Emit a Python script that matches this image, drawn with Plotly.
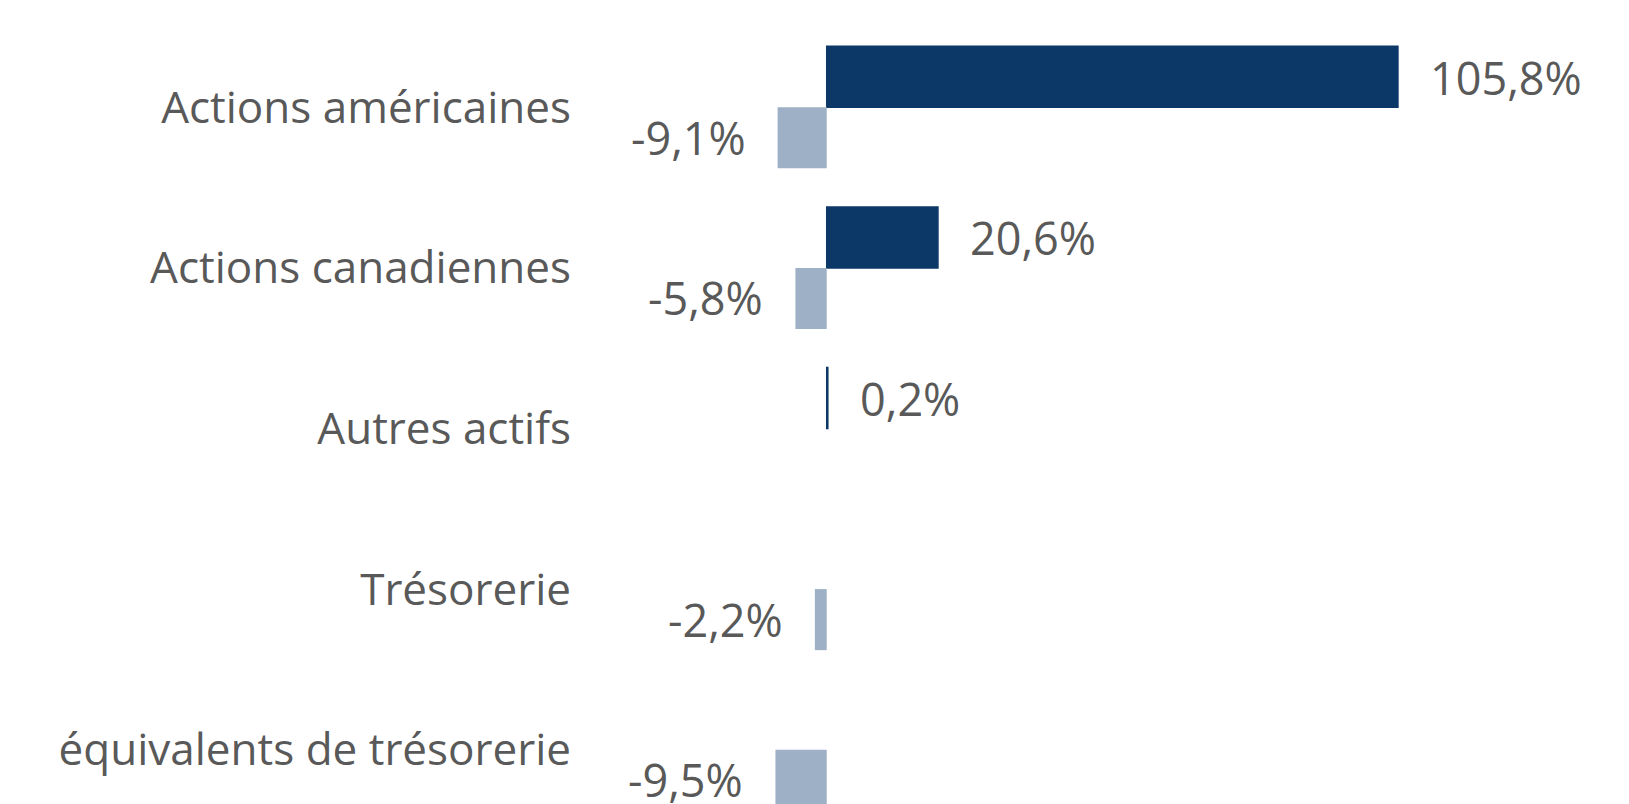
import plotly.graph_objects as go

categories = ["Actions américaines", "Actions canadiennes", "Autres actifs",
              "Trésorerie", "équivalents de trésorerie"]
long_values = [105.8, 20.6, 0.2, None, None]
short_values = [-9.1, -5.8, None, -2.2, -9.5]

DARK = "#0C3868"
LIGHT = "#9EB0C6"
TEXT = "#595959"
FONT = "Open Sans"


def fmt(v):
    return f"{v:.1f}".replace(".", ",") + "%"


fig = go.Figure()
fig.add_trace(go.Bar(y=categories, x=long_values, orientation="h",
                     marker=dict(color=DARK, line=dict(color=DARK, width=1.5)),
                     name="Long", hoverinfo="skip"))
fig.add_trace(go.Bar(y=categories, x=short_values, orientation="h",
                     marker=dict(color=LIGHT, line=dict(width=0)),
                     name="Short", hoverinfo="skip"))

annotations = []
for c, v in zip(categories, long_values):
    if v is not None:
        annotations.append(dict(x=v, y=c, xref="x", yref="y", text=fmt(v),
                                showarrow=False, xanchor="left", yanchor="middle",
                                xshift=30, yshift=30,
                                font=dict(family=FONT, size=45, color=TEXT)))
for c, v in zip(categories, short_values):
    if v is not None:
        annotations.append(dict(x=v, y=c, xref="x", yref="y", text=fmt(v),
                                showarrow=False, xanchor="right", yanchor="middle",
                                xshift=-30, yshift=-30,
                                font=dict(family=FONT, size=45, color=TEXT)))

fig.update_layout(
    width=1629, height=804,
    margin=dict(l=580, r=0, t=27, b=0),
    barmode="group", bargap=0.24, bargroupgap=0,
    plot_bgcolor="white", paper_bgcolor="white",
    showlegend=False,
    annotations=annotations,
    xaxis=dict(range=[-45.7, 148.6], showticklabels=False, showgrid=False,
               zeroline=False, showline=False, ticks=""),
    yaxis=dict(type="category", range=[4.338, -0.5], showgrid=False,
               zeroline=False, showline=False, ticks="", ticklabelstandoff=8,
               tickfont=dict(family=FONT, size=44, color=TEXT)),
)

fig.write_html("out.html")
